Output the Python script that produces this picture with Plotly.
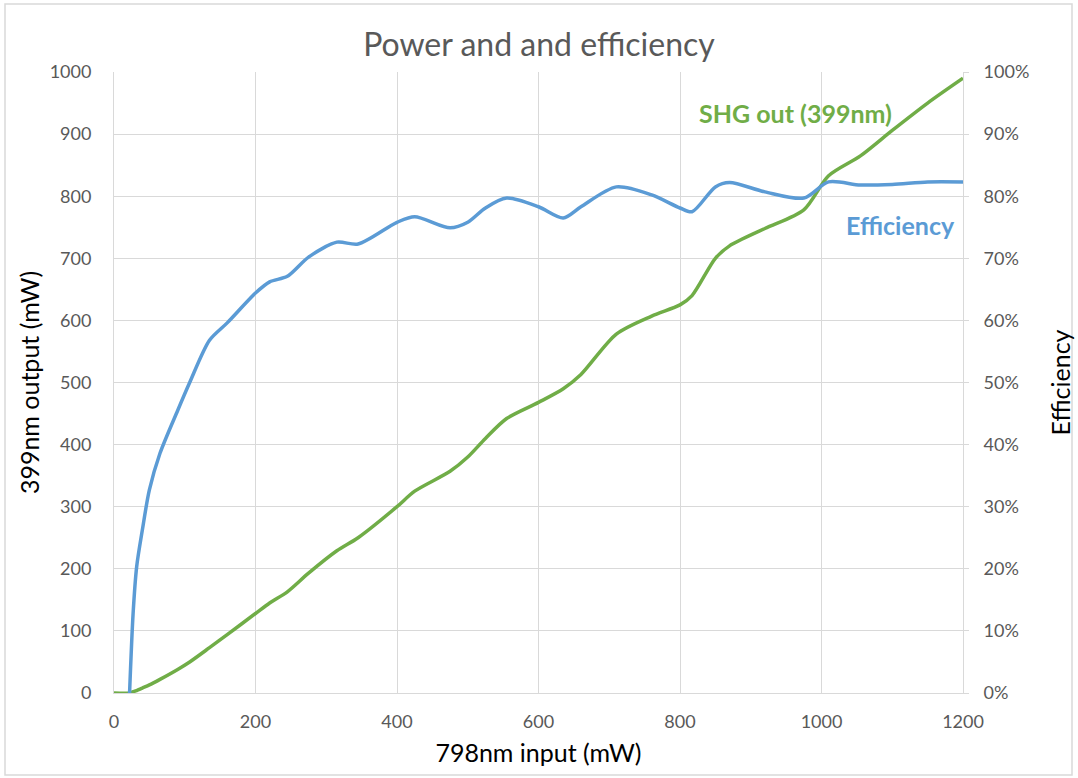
import plotly.graph_objects as go

# 798nm input power (mW)
input_mw = [0, 22, 27, 32, 40, 50, 65, 90, 107, 135, 160, 200, 220, 245, 275, 315, 345,
            400, 425, 475, 500, 525, 555, 600, 635, 660, 710, 760, 800, 817, 850, 870,
            920, 975, 1010, 1055, 1100, 1150, 1200]
# SHG output at 399nm (mW)
shg_mw = [0, 0, 2, 4, 8, 13, 22, 38, 50, 73, 94, 128, 145, 163, 193, 229, 250,
          300, 325, 357, 380, 410, 442, 468, 490, 513, 578, 607, 625, 640, 700, 720,
          748, 778, 833, 865, 906, 950, 990]
# Efficiency (fraction)
eff_x = input_mw[1:]
efficiency = [0.0, 0.128, 0.203, 0.262, 0.327, 0.386, 0.455, 0.500, 0.568, 0.596, 0.644,
              0.662, 0.671, 0.702, 0.726, 0.723, 0.758, 0.767, 0.749, 0.758, 0.781, 0.797,
              0.783, 0.765, 0.783, 0.815, 0.802, 0.781, 0.775, 0.815, 0.822, 0.807, 0.797,
              0.823, 0.818, 0.819, 0.823, 0.823]

x_ticks = [0, 200, 400, 600, 800, 1000, 1200]
y_ticks = list(range(0, 1001, 100))
y2_ticks = [i / 10 for i in range(0, 11)]

FONT = "Lato"
GRID = "#d9d9d9"
TICKC = "#595959"
BLUE = "#5B9BD5"
GREEN = "#70AD47"

W, H = 1078, 778
L, R, T, B = 114, 963, 72, 693
pw, ph = R - L, B - T

def px(xp):
    return (xp - L) / pw

def py(yp):
    return (B - yp) / ph

fig = go.Figure()
fig.add_trace(go.Scatter(x=input_mw, y=shg_mw, mode="lines", name="SHG out (399nm)",
                         line=dict(color=GREEN, width=3.5, shape="spline", smoothing=0.8),
                         yaxis="y"))
fig.add_trace(go.Scatter(x=eff_x, y=efficiency, mode="lines", name="Efficiency",
                         line=dict(color=BLUE, width=3.5, shape="spline", smoothing=0.8),
                         yaxis="y2"))

fig.update_layout(
    width=W, height=H,
    margin=dict(l=L, r=W - R, t=T, b=H - B, autoexpand=False),
    paper_bgcolor="white", plot_bgcolor="white",
    showlegend=False,
    font=dict(family=FONT, size=18, color=TICKC),
    title=dict(text="Power and and efficiency", x=0.5, xanchor="center",
               y=1 - 45 / H, yanchor="middle",
               font=dict(family=FONT, size=32, color=TICKC)),
    xaxis=dict(range=[0, 1200], tickvals=x_ticks, showgrid=True, gridcolor=GRID, gridwidth=1,
               showline=True, linecolor=GRID, linewidth=1, zeroline=False, automargin=False,
               ticks="", ticklabelstandoff=12,
               tickfont=dict(family=FONT, size=18, color=TICKC),
               title=dict(text="798nm input (mW)", standoff=13,
                          font=dict(family=FONT, size=25, color="black"))),
    yaxis=dict(range=[0, 1000], tickvals=y_ticks, showgrid=True, gridcolor=GRID, gridwidth=1,
               showline=True, linecolor=GRID, linewidth=1, zeroline=False, automargin=False,
               ticks="", ticklabelstandoff=18,
               tickfont=dict(family=FONT, size=18, color=TICKC),
               title=dict(text="399nm output (mW)", standoff=2,
                          font=dict(family=FONT, size=25, color="black"))),
    yaxis2=dict(range=[0, 1], tickvals=y2_ticks, tickformat=".0%", overlaying="y", side="right",
                showgrid=False, showline=True, linecolor=GRID, linewidth=1, zeroline=False,
                automargin=False,
                ticks="outside", ticklen=5, tickcolor=GRID, ticklabelstandoff=11,
                tickfont=dict(family=FONT, size=18, color=TICKC),
                title=dict(text="Efficiency", standoff=24,
                           font=dict(family=FONT, size=25, color="black"))),
)

fig.add_annotation(text="<b>SHG out (399nm)</b>", x=px(795), y=py(113), xref="paper", yref="paper",
                   xanchor="center", yanchor="middle",
                   showarrow=False, font=dict(family=FONT, size=25, color=GREEN))
fig.add_annotation(text="<b>Efficiency</b>", x=px(900), y=py(225), xref="paper", yref="paper",
                   xanchor="center", yanchor="middle",
                   showarrow=False, font=dict(family=FONT, size=25, color=BLUE))

fig.add_shape(type="rect", xref="paper", yref="paper",
              x0=px(5), x1=px(1072), y0=py(775), y1=py(4),
              line=dict(color=GRID, width=1.5), fillcolor="rgba(0,0,0,0)", layer="below")

fig.write_html("out.html", config={"displayModeBar": False},
               post_script="document.body.style.margin='0';document.body.style.overflow='hidden';")
